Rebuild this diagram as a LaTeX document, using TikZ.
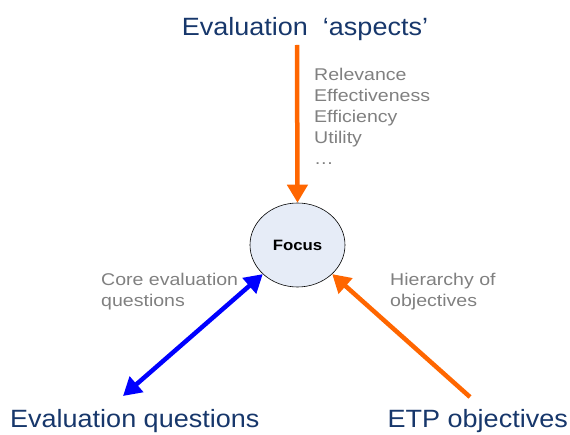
\documentclass[tikz,border=0pt]{standalone}
\usepackage{fontspec}
\setmainfont{Liberation Sans}
\newfontfamily\bigfont[FakeStretch=1.08]{Liberation Sans}
\newfontfamily\grayfont[FakeStretch=1.15]{Liberation Sans}
\newfontfamily\boldwide[FakeStretch=1.12]{Liberation Sans Bold}
\usetikzlibrary{arrows.meta,shapes.geometric}
\definecolor{titleblue}{RGB}{23,55,107}
\definecolor{textgray}{RGB}{128,128,128}
\definecolor{arrorange}{RGB}{255,102,0}
\definecolor{arrblue}{RGB}{0,0,255}
\definecolor{focusfill}{RGB}{230,236,247}
\tikzset{
  big/.style={font=\bigfont\fontsize{25}{28}\selectfont, text=titleblue, inner sep=0pt},
  note/.style={font=\grayfont\fontsize{17}{21}\selectfont, text=textgray, align=left, inner sep=0pt},
  oarrow/.style={draw=arrorange, line width=4.5pt, -{Triangle[length=18pt,width=20pt]}},
  barrow/.style={draw=arrblue, line width=4.5pt, {Triangle[length=18pt,width=20pt]}-{Triangle[length=18pt,width=20pt]}}
}
\begin{document}
\begin{tikzpicture}[x=1pt,y=1pt]
\useasboundingbox (0,0) rectangle (570,434);
\node[big] (title) at (305,405) {Evaluation\ \ ‘aspects’};
\node[big, anchor=west] (eq) at (10,13) {Evaluation questions};
\node[big, anchor=east] (etp) at (568,13) {ETP objectives};
\node[draw=black, line width=0.6pt, fill=focusfill, ellipse, minimum width=95pt, minimum height=84pt, inner sep=0pt] (focus) at (297.5,189) {};
\node[font=\boldwide\fontsize{15}{17}\selectfont] at (focus.center) {Focus};
\node[note, anchor=north west] (aspects) at (314,366) {Relevance\\Effectiveness\\Efficiency\\Utility\\\ldots};
\node[note, anchor=north west] (core) at (101,161) {Core evaluation\\questions};
\node[note, anchor=north west] (hier) at (390,161) {Hierarchy of\\objectives};
\coordinate (t1) at (297,389);
\coordinate (b1) at (123,38);
\coordinate (e1) at (470,37);
\draw[oarrow] (t1) -- (focus.north);
\draw[barrow] (b1) -- (focus.220);
\draw[oarrow] (e1) -- (focus.-40);
\end{tikzpicture}
\end{document}
